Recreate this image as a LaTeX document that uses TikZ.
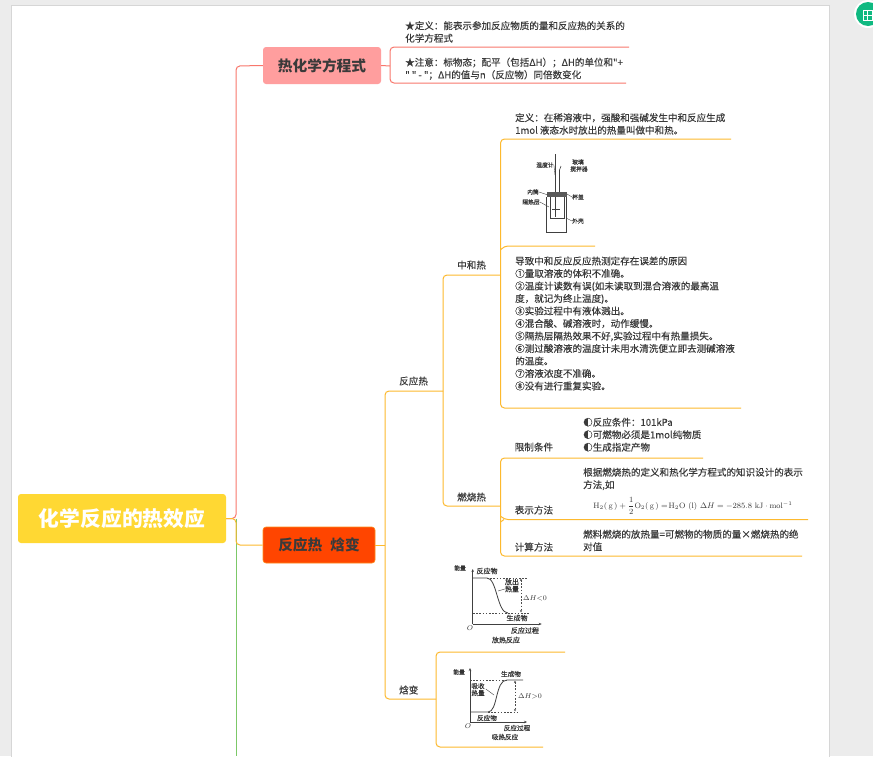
\documentclass[tikz,border=0pt]{standalone}
\usepackage{fontspec}
\usetikzlibrary{arrows.meta}
\newfontfamily\cjk{Noto Sans CJK SC}
\newfontfamily\cjkm[FakeBold=0.2]{Noto Sans CJK SC}
\definecolor{pagebg}{HTML}{ECECEC}
\definecolor{pageedge}{HTML}{D6D6D6}
\definecolor{linered}{HTML}{F8776C}
\definecolor{lineorange}{HTML}{FDB92E}
\definecolor{linegreen}{HTML}{7CC868}
\definecolor{rootfill}{HTML}{FFD833}
\definecolor{pinkfill}{HTML}{FF9E9E}
\definecolor{hotfill}{HTML}{FF4500}
\definecolor{txt}{HTML}{3A3A3A}
\definecolor{icongreen}{HTML}{10B981}
\tikzset{
  rootbox/.style={rectangle,rounded corners=3,fill=rootfill,text=white,font=\cjk\bfseries\fontsize{20.8}{24}\selectfont,minimum width=208,minimum height=49,inner sep=0},
  mainbox/.style={rectangle,rounded corners=3,text=txt,font=\cjk\bfseries\fontsize{14.7}{18}\selectfont,inner sep=0},
  para/.style={anchor=north west,align=left,inner sep=0,text=txt,font=\cjkm\fontsize{9.55}{12.5}\selectfont},
  lab/.style={anchor=west,inner sep=0,text=txt,font=\cjkm\fontsize{9.6}{12}\selectfont},
  redline/.style={draw=linered,line width=1pt,rounded corners=4},
  orangeline/.style={draw=lineorange,line width=1pt,rounded corners=4},
  greenline/.style={draw=linegreen,line width=1pt},
  tiny/.style={inner sep=0,text=black!80,font=\cjkm\fontsize{5.8}{6}\selectfont},
  graphlab/.style={inner sep=0,text=black!80,font=\cjkm\fontsize{7}{8}\selectfont},
  figline/.style={draw=black!75,line width=.6pt},
  dashline/.style={draw=black!70,line width=.5pt,dash pattern=on 1.6pt off 1.6pt}
}
\begin{document}
\begin{tikzpicture}[x=1pt,y=-1pt]
\useasboundingbox (0,0) rectangle (873,756);
\fill[pagebg] (0,0) rectangle (873,756);
\fill[white,draw=pageedge,line width=.8pt] (11,5) rectangle (829,760);
% icon
\fill[white] (868,14) circle (14);
\fill[icongreen] (868,14) circle (12);
\draw[white,line width=.9pt] (863,10.5) rectangle (872.5,20) (867.7,10.5) -- (867.7,20) (863,15.2) -- (872.5,15.2);

% main nodes
\node[rootbox] (root) at (122,518.5) {化学反应的热效应};
\node[mainbox,fill=pinkfill,minimum width=118,minimum height=37] (thermo) at (322,65.5) {热化学方程式};
\node[mainbox,fill=hotfill,draw=lineorange!60!hotfill,line width=.6pt,minimum width=112,minimum height=36] (enth) at (319,545) {反应热\hspace{8pt}焓变};

% labels
\node[lab] (fanying) at (399,381) {反应热};
\node[lab] (zhonghe) at (457,265) {中和热};
\node[lab] (ranshao) at (457,497) {燃烧热};
\node[lab] (hanbian) at (399,690) {焓变};
\node[lab] (xianzhi) at (514.5,447) {限制条件};
\node[lab] (biaoshi) at (514.5,510) {表示方法};
\node[lab] (jisuan) at (514.5,547) {计算方法};

% free-end coordinates
\coordinate (tr) at (236,518.5);
\coordinate (trbot) at (236,756);
\coordinate (hb) at (385,545);
\coordinate (fy) at (443,391);
\coordinate (hbe) at (436,699);
\coordinate (zh) at (500,275);
\coordinate (rs) at (500,506);

% trunk connectors
\draw[greenline] (tr) -- (trbot);
\draw[redline] (root.east |- tr) -- (tr) -- (236,66) -- (thermo.west);
\draw[orangeline] (root.east |- tr) -- (tr) -- (236,545) -- (enth.west);
\draw[redline] (thermo.east) -- (390,66);
\draw[orangeline] (enth.east) -- (hb);
\draw[orangeline] (hb) -- (385,391) -- (fy);
\draw[orangeline] (hb) -- (385,699) -- (hbe);
\draw[orangeline] (fy) -- (443,275) -- (zh);
\draw[orangeline] (fy) -- (443,506) -- (rs);

% brackets
\draw[redline] (629,47) -- (390,47) -- (390,83) -- (626,83);
\draw[orangeline] (731,139) -- (500.5,139) -- (500.5,408) -- (741,408);
\draw[orangeline] (595,246) -- (504,246) -- (500.5,250);
\draw[orangeline] (703,458) -- (500.5,458) -- (500.5,556) -- (802,556);
\draw[orangeline] (808,519.5) -- (504,519.5) -- (500.5,516);
\draw[orangeline] (500.5,522) -- (504,519.5);
\draw[orangeline] (565,652) -- (436,652) -- (436,747) -- (543,747);

% paragraphs
\node[para] (t1) at (405,21) {★定义：能表示参加反应物质的量和反应热的关系的\\化学方程式};
\node[para] (t2) at (405,57.5) {★注意：标物态；配平（包括ΔH）；ΔH的单位和"+\\" " - "；ΔH的值与n（反应物）同倍数变化};
\node[para] (t3) at (515,113) {定义：在稀溶液中，强酸和强碱发生中和反应生成\\1mol 液态水时放出的热量叫做中和热。};
\node[para] (t4) at (515,256.3) {导致中和反应反应热测定存在误差的原因\\①量取溶液的体积不准确。\\②温度计读数有误(如未读取到混合溶液的最高温\\度，就记为终止温度)。\\③实验过程中有液体溅出。\\④混合酸、碱溶液时，动作缓慢。\\⑤隔热层隔热效果不好,实验过程中有热量损失。\\⑥测过酸溶液的温度计未用水清洗便立即去测碱溶液\\的温度。\\⑦溶液浓度不准确。\\⑧没有进行重复实验。};
\node[para] (t5) at (583,417.5) {◐反应条件：101kPa\\◐可燃物必须是1mol纯物质\\◐生成指定产物};
\node[para] (t6) at (583,467.5) {根据燃烧热的定义和热化学方程式的知识设计的表示\\方法,如};
\node[para] (t7) at (583,529.5) {燃料燃烧的放热量=可燃物的物质的量×燃烧热的绝\\对值};
\node[inner sep=0,text=black!80,font=\fontsize{7.8}{9}\selectfont] (eq) at (693,506) {$\displaystyle\mathrm{H_2(\,g\,)}+\frac{1}{2}\mathrm{O_2(\,g\,)}=\!\mathrm{H_2O\ (l)}\ \Delta H=-285.8\ \mathrm{kJ\cdot mol^{-1}}$};

% calorimeter
\draw[figline,line width=1.1pt] (555.7,154) -- (555.7,217);
\draw[figline] (559.5,170) -- (559.5,192) (559.5,170) -- (561,166);
\fill[black!65] (546.7,192) rectangle (567.3,197);
\draw[figline] (546.7,197) -- (546.7,232) -- (566.7,232) -- (566.7,197);
\draw[figline] (550,197) -- (550,218) -- (564,218) -- (564,197);
\draw[figline] (552,209) -- (560,209);
\node[tiny] (c1) at (545,165) {温度计};
\node[tiny] (c2) at (578,162) {玻璃};
\node[tiny] (c3) at (579,169) {搅拌器};
\node[tiny] (c4) at (533,192) {内筒};
\node[tiny] (c5) at (531,202) {隔热层};
\node[tiny] (c6) at (578,197) {杯盖};
\node[tiny] (c7) at (578,221) {外壳};
\draw[figline,line width=.4pt] (c1.east) -- (555,175);
\draw[figline,line width=.4pt] (c4.east) -- (548,195);
\draw[figline,line width=.4pt] (c5.east) -- (549,207);
\draw[figline,line width=.4pt] (c6.west) -- (567,194);
\draw[figline,line width=.4pt] (c7.west) -- (566,218);

% exothermic
\coordinate (ao) at (472.7,624);
\draw[figline,-{Stealth[length=3pt,width=2.5pt]}] (ao) -- (472.7,569);
\draw[figline,-{Stealth[length=3pt,width=2.5pt]}] (ao) -- (541.7,624);
\draw[figline,line width=.8pt] (472.7,578) -- (487,578) .. controls (497,578) and (497,613) .. (508,613);
\draw[dashline] (487,578) -- (527,578) (473,613) -- (530,613);
\draw[dashline,{Stealth[length=2.5pt,width=2.2pt]}-{Stealth[length=2.5pt,width=2.2pt]}] (521,578.5) -- (521,612.5);
\node[graphlab,font=\cjkm\fontsize{5.8}{6}\selectfont] (e1) at (460,568) {能量};
\node[graphlab] (e2) at (487,571) {反应物};
\node[graphlab] (e3) at (512,582) {放出};
\node[graphlab] (e4) at (512,589) {热量};
\node[graphlab] (e5) at (535,598) {$\Delta H{<}0$};
\node[graphlab] (e6) at (517,618) {生成物};
\node[graphlab] (e7) at (470,628.5) {$O$};
\node[graphlab] (e8) at (525,630.5) {反应过程};
\node[graphlab] (e9) at (506,640) {放热反应};
\draw[figline,line width=.4pt] (e4.west) -- (498,591);

% endothermic
\coordinate (bo) at (470,722);
\draw[figline,-{Stealth[length=3pt,width=2.5pt]}] (bo) -- (470,668);
\draw[figline,-{Stealth[length=3pt,width=2.5pt]}] (bo) -- (527,722);
\draw[figline,line width=.8pt] (470,712) -- (488,712) .. controls (498,712) and (495,680) .. (507,680) -- (523,680);
\draw[dashline] (470,680) -- (507,680) (488,712) -- (517,712);
\draw[dashline,{Stealth[length=2.5pt,width=2.2pt]}-{Stealth[length=2.5pt,width=2.2pt]}] (515,680.5) -- (515,711.5);
\node[graphlab,font=\cjkm\fontsize{5.8}{6}\selectfont] (f1) at (459,672) {能量};
\node[graphlab,font=\cjkm\fontsize{6.6}{7}\selectfont] (f2) at (511,674) {生成物};
\node[graphlab,font=\cjkm\fontsize{6.6}{7}\selectfont] (f3) at (478,686) {吸收};
\node[graphlab,font=\cjkm\fontsize{6.6}{7}\selectfont] (f4) at (478,693) {热量};
\node[graphlab,font=\cjkm\fontsize{6.6}{7}\selectfont] (f5) at (530,696) {$\Delta H{>}0$};
\node[graphlab,font=\cjkm\fontsize{6.6}{7}\selectfont] (f6) at (487,718) {反应物};
\node[graphlab,font=\cjkm\fontsize{6.6}{7}\selectfont] (f7) at (468,726.5) {$O$};
\node[graphlab,font=\cjkm\fontsize{6.6}{7}\selectfont] (f8) at (517,728) {反应过程};
\node[graphlab,font=\cjkm\fontsize{6.6}{7}\selectfont] (f9) at (505,737) {吸热反应};
\draw[figline,line width=.4pt] (f3.east) ++(1,3) -- (494,695);
\end{tikzpicture}
\end{document}
